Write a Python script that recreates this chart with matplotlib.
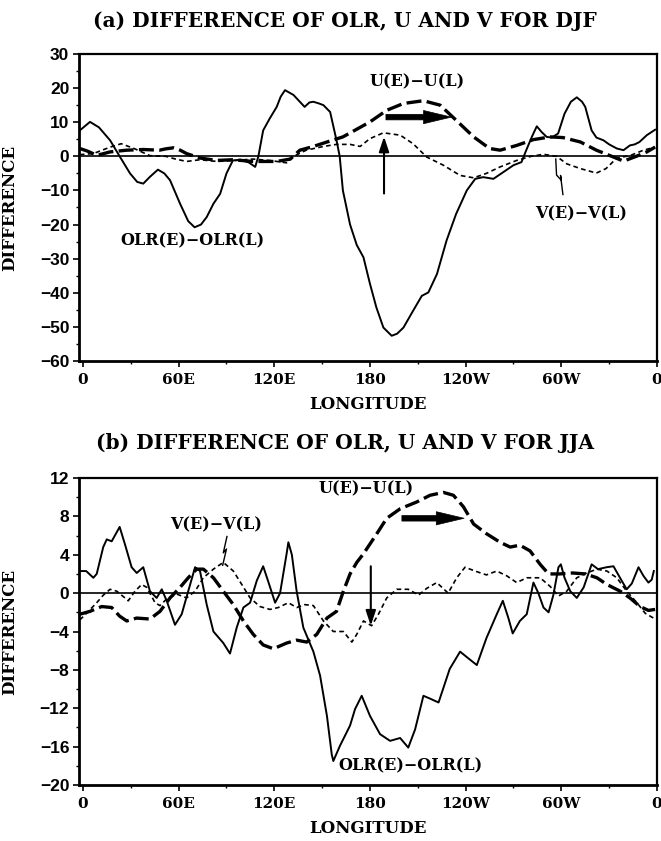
import matplotlib
matplotlib.use("Agg")
import matplotlib.pyplot as plt
from matplotlib.ticker import MultipleLocator

# ---------------- data ----------------
# Panel (a) DJF
a_olr_lon = [-2, 4.4, 10, 17, 23, 29.5, 34, 37.8, 42, 47, 51, 54.6, 60.9, 66, 70, 74, 77.6, 81.8, 86, 90,
             94, 99, 104, 108, 110, 113, 117, 121.5, 124, 126.7, 132, 136, 139, 142, 144.5, 148, 150.8, 155,
             159, 161, 163, 167.5, 171.7, 175.9, 180, 184, 188.4, 193.6, 197, 201, 207, 212.5, 216.6, 222,
             228, 234, 240.7, 246, 251, 257.4, 263.7, 270, 275, 278, 281.5, 284.6, 287.7, 290.8, 294, 298,
             302, 306, 309.7, 313, 315, 319, 322, 326.4, 330, 334.8, 339, 343, 346, 349, 353.6, 358.8]
a_olr_val = [7.6, 10.1, 8.5, 4.7, 0, -5, -7.5, -8, -6, -3.9, -5, -7, -13.9, -19, -20.8, -20, -17.8, -13.9, -11, -5,
             -1.2, -1, -1.8, -3.1, 0, 7.6, 11, 14.5, 17.5, 19.4, 18, 16, 14.5, 15.8, 16, 15.5, 15, 13,
             4.7, 0, -10, -20, -26, -29.6, -37.4, -44.3, -50.2, -52.6, -52, -50.2, -45.3, -40.9, -39.9, -34.5,
             -24.7, -16.9, -10, -6.6, -6.1, -6.6, -4.6, -2.6, -1.7, 1.8, 5.7, 8.8, 7.1, 5.7, 5.5, 6.7,
             12.5, 16, 17.3, 16, 14.5, 7.6, 5.5, 4.7, 3.5, 2.3, 1.8, 3.2, 3.5, 4.2, 6.2, 7.8]

a_u_lon = [-2, 3, 8.6, 13, 17, 27.4, 37.8, 48, 52, 56.7, 61, 65, 73.4, 84, 94, 106.5, 121.5, 130, 136, 144.5,
           153, 163, 170, 180, 190.5, 201, 213.5, 224, 234, 245, 255, 261.6, 272, 282.5, 293, 301, 312, 322,
           332.7, 339, 347, 353.6, 358.8]
a_u_val = [2.3, 1.5, 0.3, 0.8, 1.3, 1.8, 2.0, 1.8, 2.2, 2.5, 1.8, 0.8, -0.5, -1.2, -1.0, -1.5, -1.5, -0.8, 1.8, 2.9,
           4.2, 5.7, 7.5, 10.1, 13.5, 15.5, 16.3, 15, 10.6, 5.7, 2.3, 1.8, 3.2, 4.9, 5.7, 5.5, 4.2, 1.8,
           -0.2, -1.4, 0, 1.3, 2.7]

a_v_lon = [-2, 6.5, 12, 17, 24, 32, 42, 52, 58, 65, 73.4, 84, 96, 106.5, 117, 127.7, 132, 140, 150.8, 159,
           167.5, 173.8, 180, 188.4, 199, 207, 215.6, 226, 236.5, 245, 253, 261.6, 272, 281, 288.8, 297,
           303.4, 312, 322, 328, 334.8, 343, 351.5, 358.8]
a_v_val = [0.5, 0.8, 1.8, 2.7, 3.7, 2.3, 0.2, 0, -0.8, -1.5, -1.0, -1.5, -1.2, -0.8, -1.2, -1.9, 0, 1.8, 2.9, 3.5,
           3.5, 2.9, 5.2, 6.9, 6.2, 3.7, -0.2, -2.6, -5.6, -6.3, -5, -3.1, -1.2, 0, 0.6, 0,
           -2.2, -3.6, -4.9, -3.6, -0.5, 0.2, 1.8, 2.7]

# Panel (b) JJA
b_olr_lon = [-2, 2, 6.5, 8.6, 12.7, 14.9, 18, 23, 26.3, 30.5, 33.7, 37.8, 42, 46.2, 49.4, 52.5, 57.7, 61.9, 66,
             70.3, 73.4, 77.6, 81.8, 88, 92.2, 96.4, 100.6, 104.8, 109, 113, 116, 120.5, 123.6, 127.8, 128.8,
             131, 134, 138.2, 144.5, 148.7, 153, 156, 157, 161.2, 167.5, 170.6, 174.8, 180, 186.3, 192.6,
             198.9, 204, 208.3, 213.5, 217.7, 223, 230, 236.5, 241.7, 247, 253, 259.5, 263.3, 266.8, 269.5,
             274, 278.3, 282.5, 285.6, 288.8, 292, 295, 298.2, 299.7, 302, 305.6, 309.7, 314, 319, 323, 328.4,
             332.7, 336.8, 341, 344.2, 348.4, 351.5, 354.6, 356.7, 358]
b_olr_val = [2.3, 2.3, 1.6, 2.0, 4.8, 5.6, 5.4, 6.9, 5.1, 2.7, 2.1, 2.7, 0.2, -0.5, 0.4, -0.8, -3.3, -2.2, 0.2,
             2.7, 2.3, -1.2, -4.0, -5.2, -6.3, -3.6, -1.5, -1.0, 1.3, 2.8, 1.3, -1.0, 0, 4.2, 5.3,
             4.0, 0.2, -3.6, -6.1, -8.6, -12.8, -16.8, -17.5, -15.9, -13.8, -12.1, -10.7, -12.8, -14.7, -15.4,
             -15.1, -16.1, -14.2, -10.7, -11.0, -11.4, -7.9, -6.1, -6.8, -7.5, -4.7, -2.2, -0.8, -2.6, -4.2,
             -2.9, -2.2, 1.1, 0, -1.5, -2.0, -0.2, 2.7, 3.0, 1.6, 0.2, -0.5, 0.6, 3.0, 2.5, 2.7,
             2.8, 1.6, 0.4, 1.0, 2.7, 1.8, 1.1, 1.4, 2.3]

b_u_lon = [-2, 4.4, 11.7, 18, 23, 27.4, 33.7, 42, 48.3, 54.6, 60.9, 66, 71.3, 75.5, 81.8, 88, 94.3, 100.6,
           106.8, 113, 119.4, 127.8, 134, 140.3, 146.6, 153, 159, 163.3, 167.5, 171.7, 175.9, 184.3, 190.5,
           199, 209.3, 217.7, 226, 232.3, 238.6, 245, 253, 261.6, 267.9, 274, 280.4, 286.7, 292, 298.9, 307,
           315.2, 322.3, 328.6, 336.9, 343, 349.4, 354.6, 358.8]
b_u_val = [-2.2, -1.9, -1.4, -1.5, -2.4, -2.9, -2.6, -2.7, -1.9, -0.5, 0.6, 1.6, 2.5, 2.5, 1.6, 0.2, -1.2, -2.9,
           -4.3, -5.4, -5.8, -5.2, -4.9, -5.1, -4.3, -2.6, -1.9, 0.2, 2.0, 3.2, 4.1, 6.2, 7.8,
           8.8, 9.5, 10.2, 10.5, 10.2, 9.0, 7.2, 6.2, 5.3, 4.8, 5.0, 4.4, 3.0, 2.0, 2.0, 2.1,
           2.0, 1.6, 0.9, 0.2, -0.5, -1.4, -1.8, -1.7]

b_v_lon = [-2, 3.4, 8.6, 12.8, 17, 21.2, 26.3, 28.4, 32.6, 36.8, 40, 45.2, 48.3, 52.5, 58.8, 65, 70.3, 75.5,
           81.8, 88, 94.3, 99.6, 104.8, 111, 117.3, 122.5, 128.8, 134, 139.2, 144.5, 150.8, 157, 163.3, 168.6,
           171.7, 175.9, 181, 185.3, 190.5, 196.8, 204, 210.5, 215.6, 221.9, 229, 234.4, 239.6, 245.9, 253,
           259.5, 265.8, 272, 278.3, 286.7, 293, 298.2, 303.4, 309.7, 316, 322.3, 328.6, 334.8, 341, 347.4,
           352.6, 357.8]
b_v_val = [-2.8, -1.9, -1.0, -0.2, 0.4, 0.2, -0.5, -0.8, 0.2, 0.9, 0.6, -1.0, -1.3, -0.6, -0.1, -0.5, 0.2, 1.6,
           2.5, 3.2, 2.3, 0.9, -0.5, -1.4, -1.7, -1.5, -1.0, -1.5, -1.2, -1.3, -2.9, -4.0, -4.0, -5.1,
           -4.3, -2.9, -3.4, -2.2, -0.5, 0.4, 0.4, -0.2, 0.5, 1.1, 0, 1.6, 2.7, 2.3, 1.9,
           2.3, 1.8, 1.1, 1.6, 1.6, 0.7, -0.3, 0.2, 1.6, 2.1, 2.5, 2.3, 1.6, 0.2, -1.0,
           -2.1, -2.6]

xtick_pos = [0, 60, 120, 180, 240, 300, 360]
xtick_labels = ['0', '60E', '120E', '180', '120W', '60W', '0']
titles = ['(a) DIFFERENCE OF OLR, U AND V FOR DJF', '(b) DIFFERENCE OF OLR, U AND V FOR JJA']

# ---------------- figure ----------------
W, H = 661, 841
fig = plt.figure(figsize=(W / 100, H / 100), dpi=100)
fig.patch.set_facecolor('white')

SERIF = ['DejaVu Serif']
SANS = ['Liberation Sans', 'DejaVu Sans']


def make_axes(top_px, bottom_px):
    return fig.add_axes([79 / W, 1 - bottom_px / H, 578 / W, (bottom_px - top_px) / H])


def style_axes(ax, ylim, ymajor, yminor):
    ax.set_xlim(-2.5, 360)
    ax.set_ylim(*ylim)
    ax.set_xticks(xtick_pos)
    ax.set_xticklabels(xtick_labels, family=SERIF, fontweight='bold', fontsize=11)
    ax.xaxis.set_minor_locator(MultipleLocator(30))
    ax.yaxis.set_major_locator(MultipleLocator(ymajor))
    ax.yaxis.set_minor_locator(MultipleLocator(yminor))
    for lab in ax.get_yticklabels():
        lab.set_family(SANS)
        lab.set_fontweight('bold')
        lab.set_fontsize(12.5)
    ax.tick_params(axis='both', which='major', direction='out', length=4, width=1.2, pad=3)
    ax.tick_params(axis='both', which='minor', direction='out', length=2.5, width=1.0)
    ax.tick_params(axis='x', which='major', pad=5)
    ax.tick_params(top=False, right=False)
    for s in ['left', 'bottom']:
        ax.spines[s].set_linewidth(2.0)
    for s in ['top', 'right']:
        ax.spines[s].set_linewidth(1.6)
    ax.axhline(0, color='black', lw=1.2, zorder=1)
    ax.set_ylabel('DIFFERENCE', family=SERIF, fontweight='bold', fontsize=12, labelpad=6)
    ax.set_xlabel('LONGITUDE', family=SERIF, fontweight='bold', fontsize=12, labelpad=6)


def draw_series(ax, olr_lon, olr_val, u_lon, u_val, v_lon, v_val):
    ax.plot(olr_lon, olr_val, color='black', lw=1.4, solid_joinstyle='round', zorder=3)
    ax.plot(u_lon, u_val, color='black', lw=2.4, dashes=(4.5, 1.6), zorder=3)
    ax.plot(v_lon, v_val, color='black', lw=1.2, dashes=(2.8, 2.0), zorder=3)


ann_kw = dict(family=SERIF, fontweight='bold', fontsize=11.5, ha='center', va='center')
big_arrow = dict(arrowstyle='simple,head_width=0.95,head_length=2.0,tail_width=0.4',
                 fc='black', ec='black', lw=0.5, shrinkA=0, shrinkB=0)
thin_arrow = dict(arrowstyle='-|>,head_length=0.9,head_width=0.3', fc='black', ec='black',
                  lw=1.5, shrinkA=0, shrinkB=0)

# ---------- panel (a) ----------
ax1 = make_axes(54, 361)
draw_series(ax1, a_olr_lon, a_olr_val, a_u_lon, a_u_val, a_v_lon, a_v_val)
style_axes(ax1, (-60, 30), 10, 5)
ax1.text(68.5, -24.7, 'OLR(E)\u2212OLR(L)', **ann_kw)
ax1.text(209.5, 21.8, 'U(E)\u2212U(L)', **ann_kw)
ax1.text(312.5, -16.8, 'V(E)\u2212V(L)', **ann_kw)
ax1.annotate('', xy=(231, 11.5), xytext=(190, 11.5), arrowprops=big_arrow)
ax1.annotate('', xy=(188.8, 5.8), xytext=(188.8, -10.9), arrowprops=thin_arrow)
ax1.plot([296.5, 297, 300, 299.5, 301], [-0.8, -5.5, -7.0, -5.6, -11.2], color='black', lw=1.0)

# ---------- panel (b) ----------
ax2 = make_axes(478, 785)
draw_series(ax2, b_olr_lon, b_olr_val, b_u_lon, b_u_val, b_v_lon, b_v_val)
style_axes(ax2, (-20, 12), 4, 2)
ax2.text(177.5, 10.9, 'U(E)\u2212U(L)', **ann_kw)
ax2.text(83.7, 7.1, 'V(E)\u2212V(L)', **ann_kw)
ax2.text(205.5, -18.0, 'OLR(E)\u2212OLR(L)', **ann_kw)
ax2.annotate('', xy=(239, 7.8), xytext=(200, 7.8), arrowprops=big_arrow)
ax2.annotate('', xy=(180.5, -3.4), xytext=(180.5, 2.8), arrowprops=thin_arrow)
ax2.plot([90.3, 88.0, 90.0, 87.6], [5.9, 4.2, 4.6, 2.9], color='black', lw=1.0)

# titles
fig.text(345 / W, 1 - 21 / H, titles[0], family=SERIF, fontweight='bold', fontsize=14.5,
         ha='center', va='center')
fig.text(345 / W, 1 - 443 / H, titles[1], family=SERIF, fontweight='bold', fontsize=14.5,
         ha='center', va='center')

for ax in (ax1, ax2):
    ax.yaxis.set_label_coords(-0.105, 0.5)

fig.savefig('out.png', dpi=100, facecolor='white')
